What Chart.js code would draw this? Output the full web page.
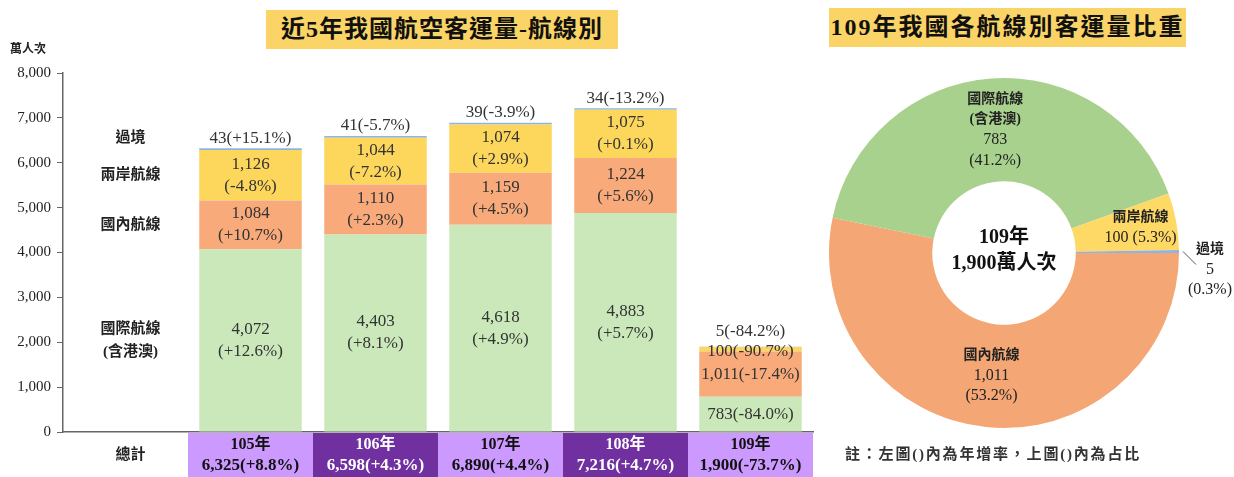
<!DOCTYPE html>
<html>
<head>
<meta charset="utf-8">
<script src="https://cdn.jsdelivr.net/npm/chart.js@4"></script>
<style>
  body { margin: 0; background: #fff; }
  #wrap { position: relative; width: 1234px; height: 477px; overflow: hidden; font-family: 'Liberation Serif', 'Noto Sans CJK TC', serif; }
  #left { position: absolute; left: 0; top: 0; }
  #right { position: absolute; left: 820px; top: 0; }
  .title { position: absolute; background: #fad466; color: #111; font-weight: bold; font-size: 24px; line-height: 39px; height: 39px; text-align: center; white-space: nowrap; }
  #t1 { left: 266px; top: 10px; width: 352px; letter-spacing: 1px; }
  #t2 { left: 829px; top: 8px; width: 357px; letter-spacing: 2px; }
  #unit { position: absolute; left: 10px; top: 39px; font-size: 12px; font-weight: bold; color: #222; }
  #note { position: absolute; left: 845px; top: 442px; font-size: 15px; font-weight: bold; color: #333; letter-spacing: 1.8px; white-space: nowrap; }
</style>
</head>
<body>
<div id="wrap">
  <canvas id="left" width="820" height="477"></canvas>
  <canvas id="right" width="414" height="477"></canvas>
  <div class="title" id="t1">近5年我國航空客運量-航線別</div>
  <div class="title" id="t2">109年我國各航線別客運量比重</div>
  <div id="unit">萬人次</div>
  <div id="note">註：左圖()內為年增率，上圖()內為占比</div>
</div>
<script>
  // data (萬人次)
  var years = ['105年', '106年', '107年', '108年', '109年'];
  var totals = [6325, 6598, 6890, 7216, 1900];
  var totalGrowth = ['+8.8%', '+4.3%', '+4.4%', '+4.7%', '-73.7%'];
  var intl = [4072, 4403, 4618, 4883, 783];
  var intlGrowth = ['+12.6%', '+8.1%', '+4.9%', '+5.7%', '-84.0%'];
  var domestic = [1084, 1110, 1159, 1224, 1011];
  var domesticGrowth = ['+10.7%', '+2.3%', '+4.5%', '+5.6%', '-17.4%'];
  var cross = [1126, 1044, 1074, 1075, 100];
  var crossGrowth = ['-4.8%', '-7.2%', '+2.9%', '+0.1%', '-90.7%'];
  var transit = [43, 41, 39, 34, 5];
  var transitGrowth = ['+15.1%', '-5.7%', '-3.9%', '-13.2%', '-84.2%'];
  var rowNames = ['國際航線\n(含港澳)', '國內航線', '兩岸航線', '過境'];
  var yMax = 8000;
  var yStep = 1000;

  // 109年 share
  var pieNames = ['國內航線', '國際航線\n(含港澳)', '兩岸航線', '過境'];
  var pieValues = [1011, 783, 100, 5];
  var pieShares = ['53.2%', '41.2%', '5.3%', '0.3%'];
  var pieCenter = ['109年', '1,900萬人次'];

  var SERIF = "'Liberation Serif', 'Noto Sans CJK TC', serif";
  var fmt = function (v) { return v.toLocaleString('en-US'); };
  var pad = function (arr) { return [null].concat(arr); };

  var barGrowth = [intlGrowth, domesticGrowth, crossGrowth, transitGrowth];

  var barLabels = {
    id: 'barLabels',
    afterDatasetsDraw: function (chart) {
      var ctx = chart.ctx;
      ctx.save();
      ctx.textAlign = 'center';
      ctx.textBaseline = 'middle';
      ctx.fillStyle = '#333';
      ctx.font = '17px ' + SERIF;
      chart.data.datasets.forEach(function (ds, i) {
        var meta = chart.getDatasetMeta(i);
        meta.data.forEach(function (bar, j) {
          if (j === 0) return;
          var v = ds.data[j];
          var g = barGrowth[i][j - 1];
          var mid = (bar.y + bar.base) / 2;
          var last = j === ds.data.length - 1;
          if (i === 3) {
            ctx.fillText(v + '(' + g + ')', bar.x, bar.y - (last ? 15 : 10));
          } else if (last) {
            ctx.fillText(fmt(v) + '(' + g + ')', bar.x, mid + (i === 2 ? 2 : 0));
          } else {
            ctx.fillText(fmt(v), bar.x, mid - 11);
            ctx.fillText('(' + g + ')', bar.x, mid + 11);
          }
        });
      });
      // row names in the first column, lined up with the 105 bar
      ctx.font = 'bold 15px ' + SERIF;
      ctx.fillStyle = '#222';
      var x0 = chart.scales.x.getPixelForValue(0);
      rowNames.forEach(function (name, i) {
        var bar = chart.getDatasetMeta(i).data[1];
        var y = i === 3 ? bar.y - 10 : (bar.y + bar.base) / 2;
        var lines = name.split('\n');
        lines.forEach(function (ln, k) {
          ctx.fillText(ln, x0 + 5, y + (k - (lines.length - 1) / 2) * 23);
        });
      });
      ctx.restore();
    },
    afterDraw: function (chart) {
      var ctx = chart.ctx;
      var xs = chart.scales.x;
      var area = chart.chartArea;
      var w = xs.width / chart.data.labels.length;
      var top = area.bottom + 1;
      var h = chart.height - top;
      ctx.save();
      ctx.textAlign = 'center';
      ctx.textBaseline = 'middle';
      ctx.font = 'bold 15px ' + SERIF;
      ctx.fillStyle = '#222';
      ctx.fillText(chart.data.labels[0], xs.getPixelForValue(0) + 5, top + h / 2);
      years.forEach(function (yr, k) {
        var cx = xs.getPixelForValue(k + 1);
        var dark = k % 2 === 1;
        ctx.fillStyle = dark ? '#7030a0' : '#cc99ff';
        ctx.fillRect(cx - w / 2, top, w, h);
        ctx.fillStyle = dark ? '#fff' : '#111';
        ctx.font = 'bold 16px ' + SERIF;
        ctx.fillText(yr, cx, top + 12);
        ctx.font = 'bold 17px ' + SERIF;
        ctx.fillText(fmt(totals[k]) + '(' + totalGrowth[k] + ')', cx, top + 33);
      });
      ctx.restore();
    }
  };

  new Chart(document.getElementById('left'), {
    type: 'bar',
    data: {
      labels: ['總計'].concat(years),
      datasets: [
        { label: '國際航線(含港澳)', data: pad(intl), backgroundColor: '#cbe8bb' },
        { label: '國內航線', data: pad(domestic), backgroundColor: '#f8aa7a' },
        { label: '兩岸航線', data: pad(cross), backgroundColor: '#fdd65c' },
        { label: '過境', data: pad(transit), backgroundColor: '#8fb4e0' }
      ]
    },
    options: {
      responsive: false,
      animation: false,
      layout: { padding: { top: 73, right: 7, left: 0, bottom: 0 } },
      datasets: { bar: { categoryPercentage: 1, barPercentage: 0.82 } },
      plugins: { legend: { display: false }, tooltip: { enabled: false } },
      scales: {
        x: {
          stacked: true,
          grid: { display: false },
          ticks: { display: false },
          border: { display: true, color: '#666', width: 1.5 },
          afterFit: function (s) { s.height = 45; }
        },
        y: {
          stacked: true,
          min: 0,
          max: yMax,
          grid: { drawOnChartArea: false, drawTicks: true, tickLength: 6, color: '#666' },
          border: { display: true, color: '#666', width: 1.5 },
          ticks: {
            stepSize: yStep,
            padding: 6,
            color: '#222',
            font: { family: SERIF, size: 15 },
            callback: function (v) { return fmt(v); }
          },
          afterFit: function (s) { s.width = 63; }
        }
      }
    },
    plugins: [barLabels]
  });

  var pieLabels = {
    id: 'pieLabels',
    afterDraw: function (chart) {
      var ctx = chart.ctx;
      var meta = chart.getDatasetMeta(0);
      ctx.save();
      ctx.textAlign = 'center';
      ctx.textBaseline = 'middle';
      meta.data.forEach(function (arc, i) {
        var p = arc.getProps(['x', 'y', 'startAngle', 'endAngle', 'innerRadius', 'outerRadius']);
        var a = (p.startAngle + p.endAngle) / 2;
        var names = pieNames[i].split('\n');
        var val = fmt(pieValues[i]);
        var share = '(' + pieShares[i] + ')';
        var lines, lx, ly;
        if (i === 3) {
          // tiny slice: label outside with a leader line
          var ox = p.x + Math.cos(a) * (p.outerRadius + 4);
          var oy = p.y + Math.sin(a) * (p.outerRadius + 4);
          ctx.strokeStyle = '#555';
          ctx.lineWidth = 1;
          ctx.beginPath();
          ctx.moveTo(ox, oy);
          ctx.lineTo(ox + 13, oy + 13);
          ctx.stroke();
          lines = names.concat([val, share]);
          lx = ox + 27;
          ly = oy + 18;
        } else {
          var frac = i === 2 ? 0.65 : 0.5;
          var r = p.innerRadius + (p.outerRadius - p.innerRadius) * frac;
          lx = p.x + Math.cos(a) * r;
          ly = p.y + Math.sin(a) * r;
          lines = i === 2 ? names.concat([val + ' ' + share]) : names.concat([val, share]);
        }
        var step = 20.5;
        lines.forEach(function (ln, k) {
          var cjk = /[\u4e00-\u9fff]/.test(ln) && !/\d/.test(ln);
          ctx.font = cjk ? 'bold 14px ' + SERIF : '16px ' + SERIF;
          ctx.fillStyle = '#222';
          ctx.fillText(ln, lx, ly + (k - (lines.length - 1) / 2) * step);
        });
      });
      var c = meta.data[0];
      ctx.font = 'bold 20px ' + SERIF;
      ctx.fillStyle = '#111';
      ctx.fillText(pieCenter[0], c.x, c.y - 15);
      ctx.fillText(pieCenter[1], c.x, c.y + 11);
      ctx.restore();
    }
  };

  new Chart(document.getElementById('right'), {
    type: 'doughnut',
    data: {
      labels: pieNames,
      datasets: [{
        data: pieValues,
        backgroundColor: ['#f4a774', '#a9d18e', '#ffd966', '#8fb4e0'],
        borderWidth: 0
      }]
    },
    options: {
      responsive: false,
      animation: false,
      rotation: 90,
      cutout: '41%',
      layout: { padding: { left: 9, top: 78, right: 55, bottom: 49 } },
      plugins: { legend: { display: false }, tooltip: { enabled: false } }
    },
    plugins: [pieLabels]
  });
</script>
</body>
</html>
